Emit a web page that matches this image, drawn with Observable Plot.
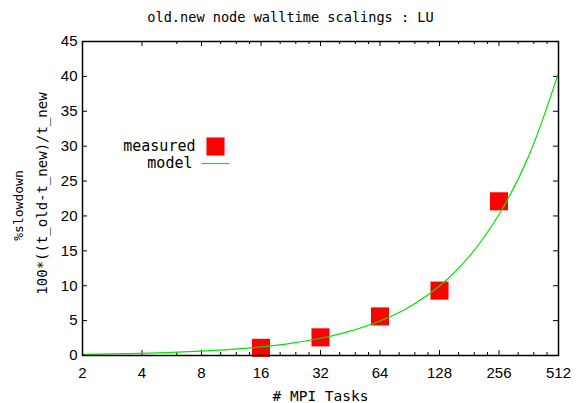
<!DOCTYPE html>
<html><head><meta charset="utf-8">
<script src="https://cdn.jsdelivr.net/npm/d3@7"></script>
<script src="https://cdn.jsdelivr.net/npm/@observablehq/plot@0.6"></script>
<style>body{margin:0;background:#fff}</style>
</head><body><div id="chart"></div>
<script>
const title = "old.new node walltime scalings : LU";
const xLabel = "# MPI Tasks";
const yLabel1 = "%slowdown";
const yLabel2 = "100*((t_old-t_new)/t_new";
const xTicks = [2, 4, 8, 16, 32, 64, 128, 256, 512];
const xMinorTicks = [6, 10, 12, 14, 20, 24, 28, 40, 48, 56, 80, 96, 112, 160, 192, 224, 320, 384, 448];
const yTicks = [0, 5, 10, 15, 20, 25, 30, 35, 40, 45];
const measuredTasks = [16, 32, 64, 128, 256];
const measuredSlowdown = [1.1, 2.6, 5.6, 9.3, 22.1];
const modelTasks = [2, 2.83, 4, 5.66, 8, 11.3, 16, 22.6, 32, 45.3, 64, 90.5, 128, 181, 256, 362, 512];
const modelSlowdown = [0.16, 0.22, 0.31, 0.44, 0.62, 0.87, 1.23, 1.74, 2.47, 3.5, 4.95, 7.0, 9.95, 14.2, 20.2, 28.6, 40.5];
const legendLabels = ["measured", "model"];

const W = 583, H = 403, mL = 82, mR = 25, mT = 41, mB = 48;
const fw = W - mL - mR, fh = H - mT - mB;
const mono = "DejaVu Sans Mono";
const sans = "Liberation Sans";
const red = "#ff0000", green = "#00e600";

const measured = measuredTasks.map((t, i) => ({t, s: measuredSlowdown[i]}));
const model = modelTasks.map((t, i) => ({t, s: modelSlowdown[i]}));
const lineSymbol = {draw(ctx) { ctx.moveTo(-14, 0); ctx.lineTo(14, 0); }};

const plot = Plot.plot({
  width: W, height: H,
  marginLeft: mL, marginRight: mR, marginTop: mT, marginBottom: mB,
  style: {background: "#fff", color: "#000"},
  x: {type: "log", base: 2, domain: [2, 512]},
  y: {domain: [0, 45]},
  marks: [
    Plot.axisX(xTicks, {tickSize: 0, tickPadding: 12, tickFormat: d => String(d), fontSize: 15, fontFamily: sans, label: null}),
    Plot.axisY(yTicks, {tickSize: 0, tickPadding: 5, fontSize: 15, fontFamily: sans, label: null}),
    Plot.tickX(xTicks, {x: d => d, insetTop: fh - 5, stroke: "#000"}),
    Plot.tickX(xTicks, {x: d => d, insetBottom: fh - 5, stroke: "#000"}),
    Plot.tickX(xMinorTicks, {x: d => d, insetTop: fh - 3, stroke: "#000"}),
    Plot.tickX(xMinorTicks, {x: d => d, insetBottom: fh - 3, stroke: "#000"}),
    Plot.tickY(yTicks, {y: d => d, insetRight: fw - 5, stroke: "#000"}),
    Plot.tickY(yTicks, {y: d => d, insetLeft: fw - 5, stroke: "#000"}),
    Plot.dot(measured, {x: "t", y: "s", symbol: "square", r: 10.2, fill: red, stroke: "none"}),
    Plot.line(model, {x: "t", y: "s", stroke: green, strokeWidth: 1.2, curve: "catmull-rom"}),
    Plot.frame({stroke: "#000", strokeWidth: 1.5}),
    Plot.text([title], {text: d => d, frameAnchor: "top", lineAnchor: "middle", dx: -30, dy: -24, fontFamily: mono, fontSize: 13.6}),
    Plot.text([xLabel], {text: d => d, frameAnchor: "bottom", lineAnchor: "middle", dy: 41, fontFamily: mono, fontSize: 14.5}),
    Plot.text([yLabel1], {text: d => d, frameAnchor: "left", textAnchor: "middle", lineAnchor: "middle", rotate: -90, dx: -64, dy: 7, fontFamily: mono, fontSize: 13}),
    Plot.text([yLabel2], {text: d => d, frameAnchor: "left", textAnchor: "middle", lineAnchor: "middle", rotate: -90, dx: -40, dy: -5, fontFamily: mono, fontSize: 14}),
    Plot.text([legendLabels[0]], {text: d => d, frameAnchor: "top-left", textAnchor: "end", lineAnchor: "middle", dx: 113, dy: 105, fontFamily: mono, fontSize: 15}),
    Plot.text([legendLabels[1]], {text: d => d, frameAnchor: "top-left", textAnchor: "end", lineAnchor: "middle", dx: 110, dy: 122, fontFamily: mono, fontSize: 15}),
    Plot.dot([0], {frameAnchor: "top-left", dx: 133, dy: 105, symbol: "square", r: 10.2, fill: red, stroke: "none"}),
    Plot.dot([0], {frameAnchor: "top-left", dx: 133, dy: 122, symbol: lineSymbol, fill: "none", stroke: green, strokeWidth: 1.2})
  ]
});
document.getElementById("chart").appendChild(plot);
</script>
</body></html>
